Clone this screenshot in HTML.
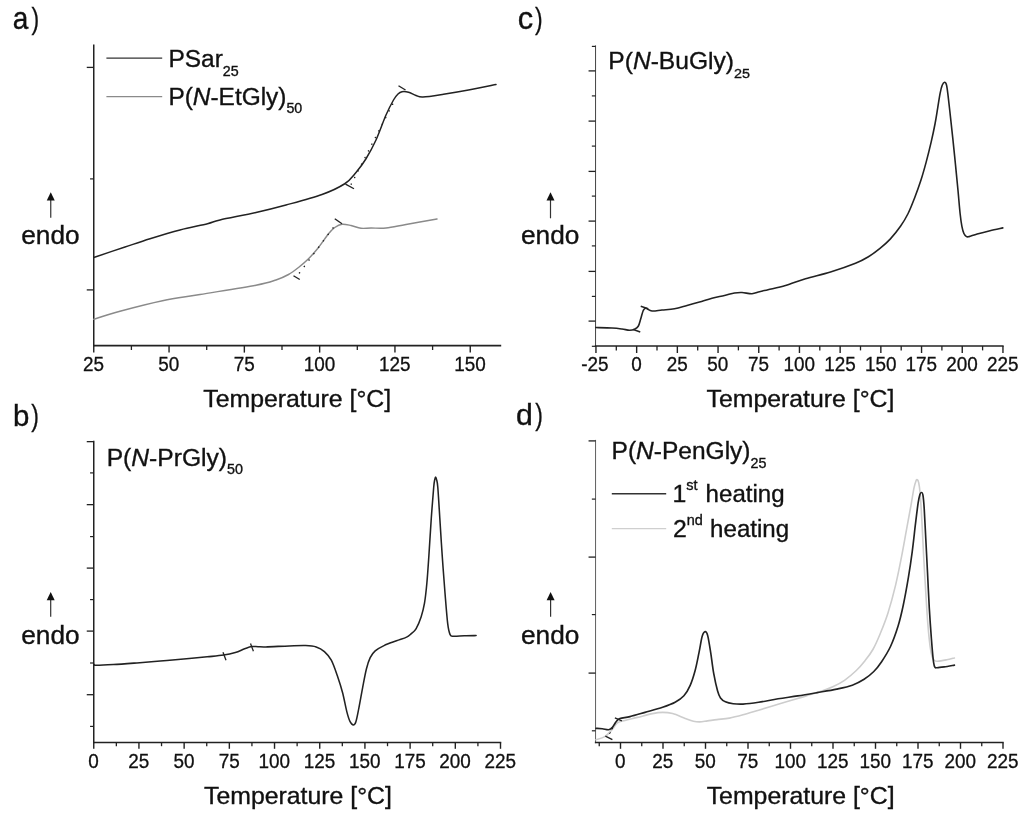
<!DOCTYPE html>
<html><head><meta charset="utf-8"><title>DSC thermograms</title>
<style>
html,body{margin:0;padding:0;background:#fff;}
body{width:1024px;height:821px;overflow:hidden;}
svg{display:block;will-change:transform;transform:translateZ(0);}
svg text{font-family:"Liberation Sans",sans-serif;fill:#111;}
</style></head><body>
<svg width="1024" height="821" viewBox="0 0 1024 821">
<rect x="0" y="0" width="1024" height="821" fill="#ffffff"/>
<text transform="translate(12.70 29.20) scale(1.000 1.150)" font-size="28.00" text-anchor="start" stroke="#111" stroke-width="0.35" >a</text>
<text transform="translate(31.50 28.90) scale(0.780 1.000)" font-size="29.50" text-anchor="start" stroke="#111" stroke-width="0.30" >)</text>
<line x1="93.75" y1="44.40" x2="93.75" y2="346.30" stroke="#222" stroke-width="1.50" />
<line x1="93.05" y1="345.60" x2="501.20" y2="345.60" stroke="#222" stroke-width="1.60" />
<line x1="93.75" y1="345.60" x2="93.75" y2="352.60" stroke="#222" stroke-width="1.40" />
<line x1="169.05" y1="345.60" x2="169.05" y2="352.60" stroke="#222" stroke-width="1.40" />
<line x1="244.35" y1="345.60" x2="244.35" y2="352.60" stroke="#222" stroke-width="1.40" />
<line x1="319.65" y1="345.60" x2="319.65" y2="352.60" stroke="#222" stroke-width="1.40" />
<line x1="394.95" y1="345.60" x2="394.95" y2="352.60" stroke="#222" stroke-width="1.40" />
<line x1="470.25" y1="345.60" x2="470.25" y2="352.60" stroke="#222" stroke-width="1.40" />
<line x1="131.40" y1="345.60" x2="131.40" y2="350.00" stroke="#222" stroke-width="1.30" />
<line x1="206.70" y1="345.60" x2="206.70" y2="350.00" stroke="#222" stroke-width="1.30" />
<line x1="282.00" y1="345.60" x2="282.00" y2="350.00" stroke="#222" stroke-width="1.30" />
<line x1="357.30" y1="345.60" x2="357.30" y2="350.00" stroke="#222" stroke-width="1.30" />
<line x1="432.60" y1="345.60" x2="432.60" y2="350.00" stroke="#222" stroke-width="1.30" />
<line x1="86.75" y1="67.40" x2="93.75" y2="67.40" stroke="#222" stroke-width="1.30" />
<line x1="86.75" y1="289.90" x2="93.75" y2="289.90" stroke="#222" stroke-width="1.30" />
<line x1="90.05" y1="178.90" x2="93.75" y2="178.90" stroke="#222" stroke-width="1.20" />
<text transform="translate(93.55 370.70) scale(0.975 1.000)" font-size="19.40" text-anchor="middle" stroke="#111" stroke-width="0.30" >25</text>
<text transform="translate(168.85 370.70) scale(0.975 1.000)" font-size="19.40" text-anchor="middle" stroke="#111" stroke-width="0.30" >50</text>
<text transform="translate(244.15 370.70) scale(0.975 1.000)" font-size="19.40" text-anchor="middle" stroke="#111" stroke-width="0.30" >75</text>
<text transform="translate(319.45 370.70) scale(0.975 1.000)" font-size="19.40" text-anchor="middle" stroke="#111" stroke-width="0.30" >100</text>
<text transform="translate(394.75 370.70) scale(0.975 1.000)" font-size="19.40" text-anchor="middle" stroke="#111" stroke-width="0.30" >125</text>
<text transform="translate(470.05 370.70) scale(0.975 1.000)" font-size="19.40" text-anchor="middle" stroke="#111" stroke-width="0.30" >150</text>
<text transform="translate(203.30 406.50) scale(1.035 1.000)" font-size="24.00" text-anchor="start" stroke="#111" stroke-width="0.35" >Temperature [°C]</text>
<line x1="50.75" y1="196.00" x2="50.75" y2="217.80" stroke="#333" stroke-width="1.20" />
<path d="M50.75 192.30 L46.75 200.60 L54.75 200.60 Z" fill="#111"/>
<text transform="translate(21.20 244.00) scale(1.050 1.000)" font-size="25.00" text-anchor="start" stroke="#111" stroke-width="0.35" >endo</text>
<line x1="106.40" y1="58.10" x2="162.20" y2="58.10" stroke="#333" stroke-width="1.40" />
<text transform="translate(168.40 67.00) scale(1.020 0.980)" font-size="24.00" text-anchor="start" stroke="#111" stroke-width="0.35" >PSar<tspan font-size="14" dy="9">25</tspan></text>
<line x1="106.40" y1="96.60" x2="162.20" y2="96.60" stroke="#8a8a8a" stroke-width="1.40" />
<text transform="translate(168.40 104.50) scale(1.018 0.980)" font-size="24.00" text-anchor="start" stroke="#111" stroke-width="0.35" >P(<tspan font-style="italic">N</tspan>-EtGly)<tspan font-size="14" dy="9">50</tspan></text>
<path d="M93.75 257.50 C98.96 255.75 115.62 250.12 125.00 247.00 C134.38 243.88 140.83 241.58 150.00 238.75 C159.17 235.92 170.42 232.50 180.00 230.00 C189.58 227.50 200.83 225.42 207.50 223.75 C214.17 222.08 211.92 221.88 220.00 220.00 C228.08 218.12 245.00 215.00 256.00 212.50 C267.00 210.00 275.00 208.00 286.00 205.00 C297.00 202.00 312.21 198.04 322.00 194.50 C331.79 190.96 339.08 187.42 344.75 183.75 C350.42 180.08 352.46 176.67 356.00 172.50 C359.54 168.33 362.67 164.17 366.00 158.75 C369.33 153.33 372.67 147.29 376.00 140.00 C379.33 132.71 383.08 121.67 386.00 115.00 C388.92 108.33 391.50 103.50 393.50 100.00 C395.50 96.50 396.58 95.38 398.00 94.00 C399.42 92.62 400.25 92.00 402.00 91.70 C403.75 91.40 406.17 91.57 408.50 92.20 C410.83 92.83 413.58 94.70 416.00 95.50 C418.42 96.30 418.42 97.21 423.00 97.00 C427.58 96.79 435.92 95.42 443.50 94.25 C451.08 93.08 459.75 91.62 468.50 90.00 C477.25 88.38 491.42 85.42 496.00 84.50" fill="none" stroke="#222" stroke-width="1.50" stroke-linejoin="round" stroke-linecap="round"/>
<path d="M93.75 319.25 C98.12 317.92 108.54 314.33 120.00 311.25 C131.46 308.17 149.17 303.54 162.50 300.75 C175.83 297.96 184.42 297.09 200.00 294.50 C215.58 291.91 243.33 287.62 256.00 285.20 C268.67 282.78 270.58 281.78 276.00 280.00 C281.42 278.22 284.75 276.58 288.50 274.50 C292.25 272.42 295.17 270.12 298.50 267.50 C301.83 264.88 305.17 262.08 308.50 258.75 C311.83 255.42 315.17 251.67 318.50 247.50 C321.83 243.33 325.79 237.08 328.50 233.75 C331.21 230.42 332.50 229.08 334.75 227.50 C337.00 225.92 339.29 224.58 342.00 224.25 C344.71 223.92 347.83 224.83 351.00 225.50 C354.17 226.17 357.67 227.83 361.00 228.25 C364.33 228.67 366.83 228.04 371.00 228.00 C375.17 227.96 380.17 228.58 386.00 228.00 C391.83 227.42 397.50 226.00 406.00 224.50 C414.50 223.00 431.83 219.92 437.00 219.00" fill="none" stroke="#8a8a8a" stroke-width="1.45" stroke-linejoin="round" stroke-linecap="round"/>
<line x1="398.50" y1="85.75" x2="405.50" y2="90.00" stroke="#222" stroke-width="1.40" />
<line x1="345.50" y1="184.20" x2="354.00" y2="188.75" stroke="#222" stroke-width="1.40" />
<line x1="351.20" y1="184.20" x2="394.50" y2="100.60" stroke="#222" stroke-width="1.50" stroke-dasharray="0.1 7.4" stroke-linecap="round"/>
<line x1="334.75" y1="218.75" x2="342.00" y2="223.75" stroke="#222" stroke-width="1.40" />
<line x1="293.50" y1="275.75" x2="299.75" y2="279.50" stroke="#222" stroke-width="1.40" />
<line x1="299.50" y1="272.90" x2="333.20" y2="227.70" stroke="#222" stroke-width="1.50" stroke-dasharray="0.1 7.9" stroke-linecap="round"/>
<text transform="translate(517.80 29.10) scale(1.100 1.150)" font-size="28.00" text-anchor="start" stroke="#111" stroke-width="0.35" >c</text>
<text transform="translate(535.00 28.80) scale(0.780 1.000)" font-size="29.50" text-anchor="start" stroke="#111" stroke-width="0.30" >)</text>
<line x1="595.55" y1="45.40" x2="595.55" y2="346.70" stroke="#444" stroke-width="1.00" />
<line x1="594.85" y1="346.00" x2="1003.65" y2="346.00" stroke="#222" stroke-width="1.60" />
<line x1="595.95" y1="346.00" x2="595.95" y2="353.00" stroke="#222" stroke-width="1.40" />
<line x1="636.65" y1="346.00" x2="636.65" y2="353.00" stroke="#222" stroke-width="1.40" />
<line x1="677.35" y1="346.00" x2="677.35" y2="353.00" stroke="#222" stroke-width="1.40" />
<line x1="718.05" y1="346.00" x2="718.05" y2="353.00" stroke="#222" stroke-width="1.40" />
<line x1="758.75" y1="346.00" x2="758.75" y2="353.00" stroke="#222" stroke-width="1.40" />
<line x1="799.45" y1="346.00" x2="799.45" y2="353.00" stroke="#222" stroke-width="1.40" />
<line x1="840.15" y1="346.00" x2="840.15" y2="353.00" stroke="#222" stroke-width="1.40" />
<line x1="880.85" y1="346.00" x2="880.85" y2="353.00" stroke="#222" stroke-width="1.40" />
<line x1="921.55" y1="346.00" x2="921.55" y2="353.00" stroke="#222" stroke-width="1.40" />
<line x1="962.25" y1="346.00" x2="962.25" y2="353.00" stroke="#222" stroke-width="1.40" />
<line x1="1002.95" y1="346.00" x2="1002.95" y2="353.00" stroke="#222" stroke-width="1.40" />
<line x1="616.30" y1="346.00" x2="616.30" y2="350.40" stroke="#222" stroke-width="1.30" />
<line x1="657.00" y1="346.00" x2="657.00" y2="350.40" stroke="#222" stroke-width="1.30" />
<line x1="697.70" y1="346.00" x2="697.70" y2="350.40" stroke="#222" stroke-width="1.30" />
<line x1="738.40" y1="346.00" x2="738.40" y2="350.40" stroke="#222" stroke-width="1.30" />
<line x1="779.10" y1="346.00" x2="779.10" y2="350.40" stroke="#222" stroke-width="1.30" />
<line x1="819.80" y1="346.00" x2="819.80" y2="350.40" stroke="#222" stroke-width="1.30" />
<line x1="860.50" y1="346.00" x2="860.50" y2="350.40" stroke="#222" stroke-width="1.30" />
<line x1="901.20" y1="346.00" x2="901.20" y2="350.40" stroke="#222" stroke-width="1.30" />
<line x1="941.90" y1="346.00" x2="941.90" y2="350.40" stroke="#222" stroke-width="1.30" />
<line x1="982.60" y1="346.00" x2="982.60" y2="350.40" stroke="#222" stroke-width="1.30" />
<line x1="588.55" y1="70.90" x2="595.55" y2="70.90" stroke="#222" stroke-width="1.30" />
<line x1="588.55" y1="121.10" x2="595.55" y2="121.10" stroke="#222" stroke-width="1.30" />
<line x1="588.55" y1="171.40" x2="595.55" y2="171.40" stroke="#222" stroke-width="1.30" />
<line x1="588.55" y1="221.10" x2="595.55" y2="221.10" stroke="#222" stroke-width="1.30" />
<line x1="588.55" y1="271.40" x2="595.55" y2="271.40" stroke="#222" stroke-width="1.30" />
<line x1="588.55" y1="321.10" x2="595.55" y2="321.10" stroke="#222" stroke-width="1.30" />
<line x1="591.85" y1="46.40" x2="595.55" y2="46.40" stroke="#222" stroke-width="1.20" />
<line x1="591.85" y1="95.90" x2="595.55" y2="95.90" stroke="#222" stroke-width="1.20" />
<line x1="591.85" y1="146.10" x2="595.55" y2="146.10" stroke="#222" stroke-width="1.20" />
<line x1="591.85" y1="196.10" x2="595.55" y2="196.10" stroke="#222" stroke-width="1.20" />
<line x1="591.85" y1="245.90" x2="595.55" y2="245.90" stroke="#222" stroke-width="1.20" />
<line x1="591.85" y1="296.40" x2="595.55" y2="296.40" stroke="#222" stroke-width="1.20" />
<line x1="591.85" y1="346.30" x2="595.55" y2="346.30" stroke="#222" stroke-width="1.20" />
<text transform="translate(594.95 371.10) scale(0.975 1.000)" font-size="19.40" text-anchor="middle" stroke="#111" stroke-width="0.30" >-25</text>
<text transform="translate(636.45 371.10) scale(0.975 1.000)" font-size="19.40" text-anchor="middle" stroke="#111" stroke-width="0.30" >0</text>
<text transform="translate(677.15 371.10) scale(0.975 1.000)" font-size="19.40" text-anchor="middle" stroke="#111" stroke-width="0.30" >25</text>
<text transform="translate(717.85 371.10) scale(0.975 1.000)" font-size="19.40" text-anchor="middle" stroke="#111" stroke-width="0.30" >50</text>
<text transform="translate(758.55 371.10) scale(0.975 1.000)" font-size="19.40" text-anchor="middle" stroke="#111" stroke-width="0.30" >75</text>
<text transform="translate(799.25 371.10) scale(0.975 1.000)" font-size="19.40" text-anchor="middle" stroke="#111" stroke-width="0.30" >100</text>
<text transform="translate(839.95 371.10) scale(0.975 1.000)" font-size="19.40" text-anchor="middle" stroke="#111" stroke-width="0.30" >125</text>
<text transform="translate(880.65 371.10) scale(0.975 1.000)" font-size="19.40" text-anchor="middle" stroke="#111" stroke-width="0.30" >150</text>
<text transform="translate(921.35 371.10) scale(0.975 1.000)" font-size="19.40" text-anchor="middle" stroke="#111" stroke-width="0.30" >175</text>
<text transform="translate(962.05 371.10) scale(0.975 1.000)" font-size="19.40" text-anchor="middle" stroke="#111" stroke-width="0.30" >200</text>
<text transform="translate(1002.75 371.10) scale(0.975 1.000)" font-size="19.40" text-anchor="middle" stroke="#111" stroke-width="0.30" >225</text>
<text transform="translate(706.50 406.50) scale(1.035 1.000)" font-size="24.00" text-anchor="start" stroke="#111" stroke-width="0.35" >Temperature [°C]</text>
<line x1="550.50" y1="196.00" x2="550.50" y2="218.30" stroke="#333" stroke-width="1.20" />
<path d="M550.50 192.30 L546.50 200.60 L554.50 200.60 Z" fill="#111"/>
<text transform="translate(521.00 244.00) scale(1.050 1.000)" font-size="25.00" text-anchor="start" stroke="#111" stroke-width="0.35" >endo</text>
<text transform="translate(608.30 69.20) scale(1.025 0.970)" font-size="24.00" text-anchor="start" stroke="#111" stroke-width="0.35" >P(<tspan font-style="italic">N</tspan>-BuGly)<tspan font-size="14" dy="9">25</tspan></text>
<path d="M595.75 327.50 C598.46 327.58 607.62 327.75 612.00 328.00 C616.38 328.25 619.08 328.62 622.00 329.00 C624.92 329.38 627.42 330.21 629.50 330.25 C631.58 330.29 633.04 329.92 634.50 329.25 C635.96 328.58 637.21 328.00 638.25 326.25 C639.29 324.50 639.92 321.38 640.75 318.75 C641.58 316.12 642.42 312.24 643.25 310.50 C644.08 308.76 644.29 308.22 645.75 308.30 C647.21 308.38 649.29 310.72 652.00 311.00 C654.71 311.28 658.25 310.38 662.00 310.00 C665.75 309.62 670.33 309.50 674.50 308.75 C678.67 308.00 682.83 306.62 687.00 305.50 C691.17 304.38 695.33 303.21 699.50 302.00 C703.67 300.79 707.83 299.33 712.00 298.25 C716.17 297.17 720.75 296.38 724.50 295.50 C728.25 294.62 731.58 293.50 734.50 293.00 C737.42 292.50 739.08 292.38 742.00 292.50 C744.92 292.62 749.08 293.88 752.00 293.75 C754.92 293.62 756.83 292.43 759.50 291.75 C762.17 291.07 763.67 290.74 768.00 289.70 C772.33 288.66 779.25 287.32 785.50 285.50 C791.75 283.68 798.00 281.00 805.50 278.75 C813.00 276.50 822.17 274.58 830.50 272.00 C838.83 269.42 849.25 265.75 855.50 263.25 C861.75 260.75 863.92 259.49 868.00 257.00 C872.08 254.51 876.30 251.28 880.00 248.30 C883.70 245.32 886.78 242.77 890.20 239.10 C893.62 235.43 897.52 230.57 900.50 226.30 C903.48 222.03 905.77 218.18 908.10 213.50 C910.43 208.82 912.37 203.73 914.50 198.20 C916.63 192.67 918.97 186.27 920.90 180.30 C922.83 174.33 924.38 168.80 926.10 162.40 C927.82 156.00 929.72 148.30 931.20 141.90 C932.68 135.50 933.93 129.55 935.00 124.00 C936.07 118.45 936.75 113.72 937.60 108.60 C938.45 103.48 939.33 97.18 940.10 93.30 C940.87 89.42 941.47 87.13 942.20 85.30 C942.93 83.47 943.78 82.35 944.50 82.30 C945.22 82.25 945.90 82.75 946.50 85.00 C947.10 87.25 947.45 90.58 948.10 95.80 C948.75 101.02 949.60 109.05 950.40 116.30 C951.20 123.55 952.05 131.20 952.90 139.30 C953.75 147.40 954.65 156.37 955.50 164.90 C956.35 173.43 957.23 182.40 958.00 190.50 C958.77 198.60 959.45 207.53 960.10 213.50 C960.75 219.47 961.27 222.97 961.90 226.30 C962.53 229.63 963.13 231.78 963.90 233.50 C964.67 235.22 965.65 236.08 966.50 236.60 C967.35 237.12 967.22 237.03 969.00 236.60 C970.78 236.17 973.70 234.98 977.20 234.00 C980.70 233.02 985.73 231.72 990.00 230.70 C994.27 229.68 1000.67 228.37 1002.80 227.90" fill="none" stroke="#222" stroke-width="1.60" stroke-linejoin="round" stroke-linecap="round"/>
<line x1="640.75" y1="306.25" x2="648.25" y2="308.75" stroke="#222" stroke-width="1.40" />
<line x1="633.25" y1="329.50" x2="640.25" y2="332.00" stroke="#222" stroke-width="1.40" />
<text transform="translate(13.10 425.80) scale(1.050 1.050)" font-size="28.00" text-anchor="start" stroke="#111" stroke-width="0.35" >b</text>
<text transform="translate(31.20 425.50) scale(0.780 1.000)" font-size="29.50" text-anchor="start" stroke="#111" stroke-width="0.30" >)</text>
<line x1="93.75" y1="440.65" x2="93.75" y2="743.20" stroke="#222" stroke-width="1.50" />
<line x1="93.05" y1="742.50" x2="501.25" y2="742.50" stroke="#222" stroke-width="1.60" />
<line x1="93.75" y1="742.50" x2="93.75" y2="748.80" stroke="#222" stroke-width="1.40" />
<line x1="138.94" y1="742.50" x2="138.94" y2="748.80" stroke="#222" stroke-width="1.40" />
<line x1="184.14" y1="742.50" x2="184.14" y2="748.80" stroke="#222" stroke-width="1.40" />
<line x1="229.34" y1="742.50" x2="229.34" y2="748.80" stroke="#222" stroke-width="1.40" />
<line x1="274.53" y1="742.50" x2="274.53" y2="748.80" stroke="#222" stroke-width="1.40" />
<line x1="319.73" y1="742.50" x2="319.73" y2="748.80" stroke="#222" stroke-width="1.40" />
<line x1="364.92" y1="742.50" x2="364.92" y2="748.80" stroke="#222" stroke-width="1.40" />
<line x1="410.12" y1="742.50" x2="410.12" y2="748.80" stroke="#222" stroke-width="1.40" />
<line x1="455.31" y1="742.50" x2="455.31" y2="748.80" stroke="#222" stroke-width="1.40" />
<line x1="500.50" y1="742.50" x2="500.50" y2="748.80" stroke="#222" stroke-width="1.40" />
<line x1="116.35" y1="742.50" x2="116.35" y2="746.20" stroke="#222" stroke-width="1.30" />
<line x1="161.54" y1="742.50" x2="161.54" y2="746.20" stroke="#222" stroke-width="1.30" />
<line x1="206.74" y1="742.50" x2="206.74" y2="746.20" stroke="#222" stroke-width="1.30" />
<line x1="251.93" y1="742.50" x2="251.93" y2="746.20" stroke="#222" stroke-width="1.30" />
<line x1="297.13" y1="742.50" x2="297.13" y2="746.20" stroke="#222" stroke-width="1.30" />
<line x1="342.32" y1="742.50" x2="342.32" y2="746.20" stroke="#222" stroke-width="1.30" />
<line x1="387.52" y1="742.50" x2="387.52" y2="746.20" stroke="#222" stroke-width="1.30" />
<line x1="432.71" y1="742.50" x2="432.71" y2="746.20" stroke="#222" stroke-width="1.30" />
<line x1="477.91" y1="742.50" x2="477.91" y2="746.20" stroke="#222" stroke-width="1.30" />
<line x1="86.75" y1="441.65" x2="93.75" y2="441.65" stroke="#222" stroke-width="1.30" />
<line x1="86.75" y1="504.65" x2="93.75" y2="504.65" stroke="#222" stroke-width="1.30" />
<line x1="86.75" y1="568.10" x2="93.75" y2="568.10" stroke="#222" stroke-width="1.30" />
<line x1="86.75" y1="631.10" x2="93.75" y2="631.10" stroke="#222" stroke-width="1.30" />
<line x1="86.75" y1="694.70" x2="93.75" y2="694.70" stroke="#222" stroke-width="1.30" />
<line x1="90.05" y1="472.90" x2="93.75" y2="472.90" stroke="#222" stroke-width="1.20" />
<line x1="90.05" y1="536.60" x2="93.75" y2="536.60" stroke="#222" stroke-width="1.20" />
<line x1="90.05" y1="599.60" x2="93.75" y2="599.60" stroke="#222" stroke-width="1.20" />
<line x1="90.05" y1="663.00" x2="93.75" y2="663.00" stroke="#222" stroke-width="1.20" />
<line x1="90.05" y1="726.40" x2="93.75" y2="726.40" stroke="#222" stroke-width="1.20" />
<text transform="translate(93.55 767.60) scale(0.975 1.000)" font-size="19.40" text-anchor="middle" stroke="#111" stroke-width="0.30" >0</text>
<text transform="translate(138.75 767.60) scale(0.975 1.000)" font-size="19.40" text-anchor="middle" stroke="#111" stroke-width="0.30" >25</text>
<text transform="translate(183.94 767.60) scale(0.975 1.000)" font-size="19.40" text-anchor="middle" stroke="#111" stroke-width="0.30" >50</text>
<text transform="translate(229.14 767.60) scale(0.975 1.000)" font-size="19.40" text-anchor="middle" stroke="#111" stroke-width="0.30" >75</text>
<text transform="translate(274.33 767.60) scale(0.975 1.000)" font-size="19.40" text-anchor="middle" stroke="#111" stroke-width="0.30" >100</text>
<text transform="translate(319.53 767.60) scale(0.975 1.000)" font-size="19.40" text-anchor="middle" stroke="#111" stroke-width="0.30" >125</text>
<text transform="translate(364.72 767.60) scale(0.975 1.000)" font-size="19.40" text-anchor="middle" stroke="#111" stroke-width="0.30" >150</text>
<text transform="translate(409.92 767.60) scale(0.975 1.000)" font-size="19.40" text-anchor="middle" stroke="#111" stroke-width="0.30" >175</text>
<text transform="translate(455.11 767.60) scale(0.975 1.000)" font-size="19.40" text-anchor="middle" stroke="#111" stroke-width="0.30" >200</text>
<text transform="translate(500.31 767.60) scale(0.975 1.000)" font-size="19.40" text-anchor="middle" stroke="#111" stroke-width="0.30" >225</text>
<text transform="translate(204.00 803.50) scale(1.035 1.000)" font-size="24.00" text-anchor="start" stroke="#111" stroke-width="0.35" >Temperature [°C]</text>
<line x1="50.70" y1="595.60" x2="50.70" y2="616.80" stroke="#333" stroke-width="1.20" />
<path d="M50.70 591.90 L46.70 600.20 L54.70 600.20 Z" fill="#111"/>
<text transform="translate(21.20 643.60) scale(1.050 1.000)" font-size="25.00" text-anchor="start" stroke="#111" stroke-width="0.35" >endo</text>
<text transform="translate(106.70 465.50) scale(1.026 0.980)" font-size="24.00" text-anchor="start" stroke="#111" stroke-width="0.35" >P(<tspan font-style="italic">N</tspan>-PrGly)<tspan font-size="14" dy="9">50</tspan></text>
<path d="M94.10 664.40 C94.42 664.55 92.78 665.27 96.00 665.30 C99.22 665.33 106.58 665.00 113.40 664.60 C120.22 664.20 129.08 663.50 136.90 662.90 C144.72 662.30 152.50 661.67 160.30 661.00 C168.10 660.33 175.88 659.60 183.70 658.90 C191.52 658.20 200.55 657.43 207.20 656.80 C213.85 656.17 218.92 655.82 223.60 655.10 C228.28 654.38 231.78 653.55 235.30 652.50 C238.82 651.45 241.97 649.78 244.70 648.80 C247.43 647.82 249.48 646.95 251.70 646.60 C253.92 646.25 255.65 646.65 258.00 646.70 C260.35 646.75 260.60 647.03 265.80 646.90 C271.00 646.77 282.57 646.13 289.20 645.90 C295.83 645.67 301.10 645.33 305.60 645.50 C310.10 645.67 313.07 645.88 316.20 646.90 C319.33 647.92 321.88 649.38 324.40 651.60 C326.92 653.82 329.10 656.05 331.30 660.20 C333.50 664.35 335.72 671.07 337.60 676.50 C339.48 681.93 341.07 686.95 342.60 692.80 C344.13 698.65 345.55 706.78 346.80 711.60 C348.05 716.42 349.00 719.48 350.10 721.70 C351.20 723.92 352.43 724.90 353.40 724.90 C354.37 724.90 354.98 724.55 355.90 721.70 C356.82 718.85 357.78 713.45 358.90 707.80 C360.02 702.15 361.35 694.27 362.60 687.80 C363.85 681.33 365.13 674.02 366.40 669.00 C367.67 663.98 368.73 660.72 370.20 657.70 C371.67 654.68 372.90 652.92 375.20 650.90 C377.50 648.88 380.45 647.28 384.00 645.60 C387.55 643.92 392.73 642.22 396.50 640.80 C400.27 639.38 404.18 638.27 406.60 637.10 C409.02 635.93 409.43 635.18 411.00 633.80 C412.57 632.42 414.32 631.62 416.00 628.80 C417.68 625.98 419.68 621.17 421.10 616.90 C422.52 612.63 423.53 608.88 424.50 603.20 C425.47 597.52 426.17 590.75 426.90 582.80 C427.63 574.85 428.17 566.30 428.90 555.50 C429.63 544.70 430.50 529.37 431.30 518.00 C432.10 506.63 433.12 493.75 433.70 487.30 C434.28 480.85 434.48 481.02 434.80 479.30 C435.12 477.58 435.32 477.00 435.60 477.00 C435.88 477.00 436.13 477.58 436.50 479.30 C436.87 481.02 437.25 480.85 437.80 487.30 C438.35 493.75 439.07 506.63 439.80 518.00 C440.53 529.37 441.33 543.00 442.20 555.50 C443.07 568.00 444.08 581.63 445.00 593.00 C445.92 604.37 446.85 616.77 447.70 623.70 C448.55 630.63 449.13 632.50 450.10 634.60 C451.07 636.70 451.13 636.10 453.50 636.30 C455.87 636.50 460.53 635.92 464.30 635.80 C468.07 635.68 474.13 635.63 476.10 635.60" fill="none" stroke="#222" stroke-width="1.55" stroke-linejoin="round" stroke-linecap="round"/>
<line x1="223.00" y1="652.20" x2="226.00" y2="660.20" stroke="#222" stroke-width="1.30" />
<line x1="250.50" y1="643.40" x2="253.40" y2="651.20" stroke="#222" stroke-width="1.30" />
<text transform="translate(515.90 425.00) scale(1.080 1.050)" font-size="28.00" text-anchor="start" stroke="#111" stroke-width="0.35" >d</text>
<text transform="translate(535.30 424.70) scale(0.780 1.000)" font-size="29.50" text-anchor="start" stroke="#111" stroke-width="0.30" >)</text>
<line x1="595.55" y1="439.90" x2="595.55" y2="743.20" stroke="#606060" stroke-width="1.00" />
<line x1="594.85" y1="742.50" x2="1003.70" y2="742.50" stroke="#222" stroke-width="1.60" />
<line x1="620.50" y1="742.50" x2="620.50" y2="748.80" stroke="#222" stroke-width="1.40" />
<line x1="663.00" y1="742.50" x2="663.00" y2="748.80" stroke="#222" stroke-width="1.40" />
<line x1="705.50" y1="742.50" x2="705.50" y2="748.80" stroke="#222" stroke-width="1.40" />
<line x1="748.00" y1="742.50" x2="748.00" y2="748.80" stroke="#222" stroke-width="1.40" />
<line x1="790.50" y1="742.50" x2="790.50" y2="748.80" stroke="#222" stroke-width="1.40" />
<line x1="833.00" y1="742.50" x2="833.00" y2="748.80" stroke="#222" stroke-width="1.40" />
<line x1="875.50" y1="742.50" x2="875.50" y2="748.80" stroke="#222" stroke-width="1.40" />
<line x1="918.00" y1="742.50" x2="918.00" y2="748.80" stroke="#222" stroke-width="1.40" />
<line x1="960.50" y1="742.50" x2="960.50" y2="748.80" stroke="#222" stroke-width="1.40" />
<line x1="1003.00" y1="742.50" x2="1003.00" y2="748.80" stroke="#222" stroke-width="1.40" />
<line x1="599.25" y1="742.50" x2="599.25" y2="746.20" stroke="#222" stroke-width="1.30" />
<line x1="641.75" y1="742.50" x2="641.75" y2="746.20" stroke="#222" stroke-width="1.30" />
<line x1="684.25" y1="742.50" x2="684.25" y2="746.20" stroke="#222" stroke-width="1.30" />
<line x1="726.75" y1="742.50" x2="726.75" y2="746.20" stroke="#222" stroke-width="1.30" />
<line x1="769.25" y1="742.50" x2="769.25" y2="746.20" stroke="#222" stroke-width="1.30" />
<line x1="811.75" y1="742.50" x2="811.75" y2="746.20" stroke="#222" stroke-width="1.30" />
<line x1="854.25" y1="742.50" x2="854.25" y2="746.20" stroke="#222" stroke-width="1.30" />
<line x1="896.75" y1="742.50" x2="896.75" y2="746.20" stroke="#222" stroke-width="1.30" />
<line x1="939.25" y1="742.50" x2="939.25" y2="746.20" stroke="#222" stroke-width="1.30" />
<line x1="981.75" y1="742.50" x2="981.75" y2="746.20" stroke="#222" stroke-width="1.30" />
<line x1="588.55" y1="440.90" x2="595.55" y2="440.90" stroke="#222" stroke-width="1.30" />
<line x1="588.55" y1="557.10" x2="595.55" y2="557.10" stroke="#222" stroke-width="1.30" />
<line x1="588.55" y1="673.10" x2="595.55" y2="673.10" stroke="#222" stroke-width="1.30" />
<line x1="591.85" y1="499.10" x2="595.55" y2="499.10" stroke="#222" stroke-width="1.20" />
<line x1="591.85" y1="614.60" x2="595.55" y2="614.60" stroke="#222" stroke-width="1.20" />
<line x1="591.85" y1="730.80" x2="595.55" y2="730.80" stroke="#222" stroke-width="1.20" />
<text transform="translate(620.30 767.60) scale(0.975 1.000)" font-size="19.40" text-anchor="middle" stroke="#111" stroke-width="0.30" >0</text>
<text transform="translate(662.80 767.60) scale(0.975 1.000)" font-size="19.40" text-anchor="middle" stroke="#111" stroke-width="0.30" >25</text>
<text transform="translate(705.30 767.60) scale(0.975 1.000)" font-size="19.40" text-anchor="middle" stroke="#111" stroke-width="0.30" >50</text>
<text transform="translate(747.80 767.60) scale(0.975 1.000)" font-size="19.40" text-anchor="middle" stroke="#111" stroke-width="0.30" >75</text>
<text transform="translate(790.30 767.60) scale(0.975 1.000)" font-size="19.40" text-anchor="middle" stroke="#111" stroke-width="0.30" >100</text>
<text transform="translate(832.80 767.60) scale(0.975 1.000)" font-size="19.40" text-anchor="middle" stroke="#111" stroke-width="0.30" >125</text>
<text transform="translate(875.30 767.60) scale(0.975 1.000)" font-size="19.40" text-anchor="middle" stroke="#111" stroke-width="0.30" >150</text>
<text transform="translate(917.80 767.60) scale(0.975 1.000)" font-size="19.40" text-anchor="middle" stroke="#111" stroke-width="0.30" >175</text>
<text transform="translate(960.30 767.60) scale(0.975 1.000)" font-size="19.40" text-anchor="middle" stroke="#111" stroke-width="0.30" >200</text>
<text transform="translate(1002.80 767.60) scale(0.975 1.000)" font-size="19.40" text-anchor="middle" stroke="#111" stroke-width="0.30" >225</text>
<text transform="translate(706.70 803.50) scale(1.035 1.000)" font-size="24.00" text-anchor="start" stroke="#111" stroke-width="0.35" >Temperature [°C]</text>
<line x1="550.60" y1="595.60" x2="550.60" y2="616.80" stroke="#333" stroke-width="1.20" />
<path d="M550.60 591.90 L546.60 600.20 L554.60 600.20 Z" fill="#111"/>
<text transform="translate(521.00 643.60) scale(1.050 1.000)" font-size="25.00" text-anchor="start" stroke="#111" stroke-width="0.35" >endo</text>
<text transform="translate(611.60 459.10) scale(1.022 0.980)" font-size="24.00" text-anchor="start" stroke="#111" stroke-width="0.35" >P(<tspan font-style="italic">N</tspan>-PenGly)<tspan font-size="14" dy="9">25</tspan></text>
<line x1="611.80" y1="493.80" x2="666.20" y2="493.80" stroke="#333" stroke-width="1.40" />
<text transform="translate(672.40 502.00) scale(1.035 1.000)" font-size="24.00" text-anchor="start" stroke="#111" stroke-width="0.35" >1<tspan font-size="14" dy="-12">st</tspan></text>
<text transform="translate(705.60 502.00) scale(1.004 1.000)" font-size="24.00" text-anchor="start" stroke="#111" stroke-width="0.35" >heating</text>
<line x1="611.80" y1="528.60" x2="666.20" y2="528.60" stroke="#cfcfcf" stroke-width="1.40" />
<text transform="translate(673.00 537.00) scale(1.035 1.000)" font-size="24.00" text-anchor="start" stroke="#111" stroke-width="0.35" >2<tspan font-size="14" dy="-12">nd</tspan></text>
<text transform="translate(710.10 537.00) scale(1.004 1.000)" font-size="24.00" text-anchor="start" stroke="#111" stroke-width="0.35" >heating</text>
<path d="M596.00 739.70 C597.47 739.20 602.07 738.45 604.80 736.70 C607.53 734.95 610.30 731.50 612.40 729.20 C614.50 726.90 615.32 724.37 617.40 722.90 C619.48 721.43 621.55 721.32 624.90 720.40 C628.25 719.48 632.90 718.53 637.50 717.40 C642.10 716.27 648.32 714.43 652.50 713.60 C656.68 712.77 659.25 712.40 662.60 712.40 C665.95 712.40 668.83 712.60 672.60 713.60 C676.37 714.60 681.73 717.13 685.20 718.40 C688.67 719.67 690.98 720.62 693.40 721.20 C695.82 721.78 697.35 721.95 699.70 721.90 C702.05 721.85 704.63 721.28 707.50 720.90 C710.37 720.52 713.25 720.07 716.90 719.60 C720.55 719.13 725.05 718.90 729.40 718.10 C733.75 717.30 738.13 716.12 743.00 714.80 C747.87 713.48 752.75 711.95 758.60 710.20 C764.45 708.45 771.58 706.27 778.10 704.30 C784.62 702.33 791.18 700.35 797.70 698.40 C804.22 696.45 811.35 694.55 817.20 692.60 C823.05 690.65 828.25 688.75 832.80 686.70 C837.35 684.65 840.58 683.00 844.50 680.30 C848.42 677.60 852.88 673.77 856.30 670.50 C859.72 667.23 862.23 664.20 865.00 660.70 C867.77 657.20 870.37 654.00 872.90 649.50 C875.43 645.00 877.70 639.75 880.20 633.70 C882.70 627.65 885.33 621.30 887.90 613.20 C890.47 605.10 893.25 594.90 895.60 585.10 C897.95 575.30 900.08 564.20 902.00 554.40 C903.92 544.60 905.62 534.40 907.10 526.30 C908.58 518.20 909.75 512.20 910.90 505.80 C912.05 499.40 913.15 492.05 914.00 487.90 C914.85 483.75 915.45 482.27 916.00 480.90 C916.55 479.53 916.87 479.47 917.30 479.70 C917.73 479.93 918.13 480.08 918.60 482.30 C919.07 484.52 919.55 486.52 920.10 493.00 C920.65 499.48 921.30 510.53 921.90 521.20 C922.50 531.87 923.05 545.07 923.70 557.00 C924.35 568.93 925.12 581.72 925.80 592.80 C926.48 603.88 927.08 614.55 927.80 623.50 C928.52 632.45 929.38 640.97 930.10 646.50 C930.82 652.03 931.37 654.37 932.10 656.70 C932.83 659.03 933.55 659.73 934.50 660.50 C935.45 661.27 935.77 661.42 937.80 661.30 C939.83 661.18 943.93 660.35 946.70 659.80 C949.47 659.25 953.12 658.30 954.40 658.00" fill="none" stroke="#cdcdcd" stroke-width="1.60" stroke-linejoin="round" stroke-linecap="round"/>
<path d="M596.00 728.40 C597.05 728.45 600.20 728.48 602.30 728.70 C604.40 728.92 606.92 729.92 608.60 729.70 C610.28 729.48 611.15 728.73 612.40 727.40 C613.65 726.07 614.85 723.17 616.10 721.70 C617.35 720.23 617.58 719.45 619.90 718.60 C622.22 717.75 625.82 717.63 630.00 716.60 C634.18 715.57 639.57 713.95 645.00 712.40 C650.43 710.85 657.58 708.98 662.60 707.30 C667.62 705.62 671.55 704.22 675.10 702.30 C678.65 700.38 681.38 698.63 683.90 695.80 C686.42 692.97 688.32 689.57 690.20 685.30 C692.08 681.03 693.73 675.65 695.20 670.20 C696.67 664.75 697.83 658.25 699.00 652.60 C700.17 646.95 701.17 639.80 702.20 636.30 C703.23 632.80 704.28 631.72 705.20 631.60 C706.12 631.48 706.78 632.10 707.70 635.60 C708.62 639.10 709.70 646.30 710.70 652.60 C711.70 658.90 712.55 667.00 713.70 673.40 C714.85 679.80 716.47 686.92 717.60 691.00 C718.73 695.08 719.20 696.10 720.50 697.90 C721.80 699.70 723.28 700.83 725.40 701.80 C727.52 702.77 730.27 703.32 733.20 703.70 C736.13 704.08 738.77 704.33 743.00 704.10 C747.23 703.87 752.75 703.18 758.60 702.30 C764.45 701.42 771.58 699.87 778.10 698.80 C784.62 697.73 791.18 696.93 797.70 695.90 C804.22 694.87 810.70 693.73 817.20 692.60 C823.70 691.47 830.85 690.33 836.70 689.10 C842.55 687.87 847.73 686.83 852.30 685.20 C856.87 683.57 860.52 681.58 864.10 679.30 C867.68 677.02 870.88 674.43 873.80 671.50 C876.72 668.57 878.82 665.87 881.60 661.70 C884.38 657.53 887.75 652.45 890.50 646.50 C893.25 640.55 895.98 632.83 898.10 626.00 C900.22 619.17 901.48 613.60 903.20 605.50 C904.92 597.40 906.90 586.35 908.40 577.40 C909.90 568.45 911.02 560.75 912.20 551.80 C913.38 542.85 914.52 531.80 915.50 523.70 C916.48 515.60 917.37 508.07 918.10 503.20 C918.83 498.33 919.35 496.28 919.90 494.50 C920.45 492.72 920.90 492.45 921.40 492.50 C921.90 492.55 922.43 492.15 922.90 494.80 C923.37 497.45 923.72 501.03 924.20 508.40 C924.68 515.77 925.25 528.35 925.80 539.00 C926.35 549.65 926.92 560.78 927.50 572.30 C928.08 583.82 928.65 597.02 929.30 608.10 C929.95 619.18 930.75 630.27 931.40 638.80 C932.05 647.33 932.65 654.62 933.20 659.30 C933.75 663.98 934.07 665.50 934.70 666.90 C935.33 668.30 935.42 667.70 937.00 667.70 C938.58 667.70 941.30 667.33 944.20 666.90 C947.10 666.47 952.70 665.40 954.40 665.10" fill="none" stroke="#222" stroke-width="1.65" stroke-linejoin="round" stroke-linecap="round"/>
<line x1="614.90" y1="717.90" x2="621.90" y2="720.90" stroke="#222" stroke-width="1.40" />
<line x1="605.40" y1="736.20" x2="612.40" y2="739.70" stroke="#222" stroke-width="1.40" />
<line x1="609.50" y1="734.00" x2="616.00" y2="722.00" stroke="#222" stroke-width="1.00" stroke-dasharray="2 3"/>
</svg>
</body></html>
